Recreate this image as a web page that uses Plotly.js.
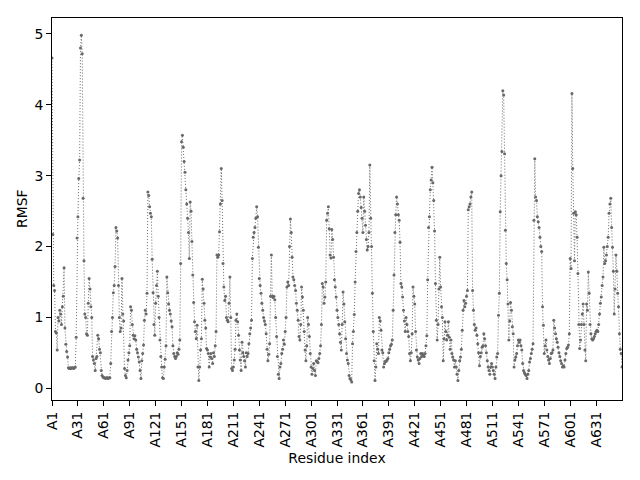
<!DOCTYPE html>
<html>
<head>
<meta charset="utf-8">
<script src="https://cdn.plot.ly/plotly-3.0.1.min.js"></script>
<style>
html,body{margin:0;padding:0;background:#fff;}
#chart{width:640px;height:480px;}
</style>
</head>
<body>
<div id="chart"></div>
<script>
// RMSF per residue (residues A1..A661)
const rmsf1 = [
4.66,2.17,1.45,1.38,0.80,0.78,0.54,1.0,0.95,1.1,
1.05,0.9,1.15,1.3,1.7,0.85,0.62,0.52,0.44,0.29,
0.28,0.29,0.28,0.29,0.29,0.28,0.29,0.3,0.72,2.12,
2.42,2.96,3.22,4.8,4.98,4.72,2.68,1.8,1.05,1.0,
0.77,0.75,1.2,1.55,1.4,1.15,1.0,0.45,0.4,0.35,
0.25,0.42,0.45,0.75,0.7,0.55,0.5,0.25,0.18,0.16,
0.15,0.15,0.14,0.15,0.15,0.14,0.15,0.15,0.35,0.8,
1.0,1.35,1.45,1.72,2.27,2.22,2.12,1.45,1.0,0.8,
0.85,1.55,1.05,0.95,0.28,0.18,0.15,0.25,0.4,0.5,
0.6,1.15,1.1,0.9,0.75,0.7,0.74,0.68,0.55,0.5,
0.44,0.37,0.25,0.14,0.39,0.49,0.61,0.96,1.1,1.05
];
const rmsf2 = [
1.34,2.77,2.72,2.56,2.47,2.42,1.82,1.35,0.9,0.75,
1.2,1.45,1.65,1.3,1.0,0.68,0.45,0.3,0.15,0.14,
0.3,0.41,0.6,1.57,1.35,1.19,1.1,1.05,0.95,0.87,
0.6,0.49,0.45,0.42,0.45,0.5,0.48,0.55,0.68,1.76,
3.48,3.57,3.4,3.2,3.05,2.8,2.6,2.4,2.2,1.83,
2.63,2.5,2.07,1.6,1.21,0.94,0.8,0.7,0.89,0.3,
0.11,0.3,0.54,0.7,1.54,1.4,1.2,0.96,0.85,0.56,
0.54,0.49,0.3,0.44,0.49,0.42,0.35,0.5,0.45,0.6,
0.8,1.88,1.85,1.88,2.21,2.6,3.1,2.65,1.76,1.43,
1.24,1.3,1.0,0.96,0.94,1.2,1.57,1.0,0.28,0.25,
0.3,0.4,0.55,0.96,1.05,0.94,0.75,0.54,0.4,0.25
];
const rmsf3 = [
0.65,0.5,0.45,0.39,0.3,0.5,0.45,0.49,0.63,0.77,
0.85,0.96,1.83,2.13,2.2,2.27,2.4,2.56,2.42,1.99,
1.55,1.45,1.34,1.2,1.1,1.0,0.95,0.9,0.77,0.55,
0.39,0.48,0.63,1.3,1.88,1.3,1.28,1.3,1.25,1.0,
0.73,0.45,0.2,0.14,0.3,0.35,0.49,0.55,0.68,0.62,
0.8,1.0,1.43,1.5,1.45,2.0,2.39,2.2,1.85,1.57,
1.53,1.45,1.38,1.2,1.1,0.96,0.73,0.68,0.9,1.43,
1.29,1.1,0.8,0.54,0.39,0.6,1.0,0.9,0.73,0.49,
0.3,0.2,0.28,0.35,0.25,0.18,0.39,0.38,0.36,0.42,
0.49,0.6,0.9,1.48,1.43,1.2,1.29,1.5,2.37,2.47,
2.56,2.25,1.88,1.84,2.24,2.1,1.85,1.53,1.43,1.29
];
const rmsf4 = [
1.1,1.0,0.9,0.77,0.65,0.54,0.9,1.36,1.19,0.94,
0.7,0.49,0.4,0.35,0.18,0.14,0.12,0.09,0.63,0.8,
1.04,1.5,1.93,2.2,2.5,2.75,2.8,2.7,2.55,2.4,
2.2,2.7,2.5,2.3,2.1,1.95,2.0,2.2,3.15,2.4,
2.0,1.34,0.8,0.39,0.11,0.3,0.63,0.55,0.49,1.0,
0.95,0.82,0.54,0.5,0.3,0.35,0.38,0.38,0.4,0.42,
0.5,0.55,0.6,0.62,0.68,1.1,1.6,2.2,2.45,2.7,
2.6,2.45,2.37,2.06,1.48,1.43,1.29,1.1,0.95,0.8,
1.0,0.9,0.8,0.73,0.49,0.39,0.5,0.77,1.43,1.3,
1.19,0.8,0.54,0.44,0.4,0.35,0.42,0.49,0.45,0.49,
0.47,0.45,0.49,0.6,0.74,1.53,2.27,2.42,2.8,2.94
];
const rmsf5 = [
3.12,2.9,2.65,2.22,1.48,0.96,0.68,0.9,1.4,1.85,
1.43,1.15,1.0,0.39,0.7,0.94,0.8,0.68,0.75,0.94,
0.72,0.55,0.68,0.49,0.44,0.4,0.3,0.39,0.3,0.2,
0.11,0.25,0.39,0.44,0.55,0.82,1.1,1.24,1.15,1.2,
1.3,1.38,2.52,2.56,2.6,2.7,2.77,1.38,1.1,0.9,
0.82,0.85,0.75,0.63,0.5,0.32,0.45,0.5,0.58,0.6,
0.77,0.7,0.6,0.5,0.39,0.3,0.25,0.2,0.3,0.35,
0.3,0.25,0.2,0.14,0.3,0.44,0.49,1.03,1.34,2.49,
3.0,3.34,4.2,4.14,3.31,2.23,1.76,1.53,1.19,0.68,
0.95,1.21,1.1,0.87,0.77,0.3,0.4,0.44,0.49,0.6,
0.68,0.65,0.68,0.6,0.54,0.35,0.25,0.22,0.2,0.18
];
const rmsf6 = [
0.14,0.2,0.25,0.37,0.42,0.49,0.55,0.63,2.37,3.24,
2.7,2.65,2.42,2.35,2.27,2.13,2.0,1.93,1.15,0.89,
0.49,0.6,0.68,0.54,0.45,0.4,0.35,0.42,0.49,0.5,
0.54,0.96,0.85,0.77,0.7,0.65,0.58,0.5,0.45,0.39,
0.35,0.3,0.32,0.3,0.4,0.49,0.56,0.58,0.61,0.77,
1.83,1.69,4.16,3.1,2.47,1.8,2.49,2.45,2.13,1.62,
0.9,0.56,0.68,0.9,1.05,1.19,0.9,0.54,0.39,1.19,
1.1,1.64,1.34,0.9,0.77,0.7,0.68,0.7,0.73,0.77,
0.8,0.82,0.8,0.9,1.05,1.2,1.29,1.45,1.57,1.99,
1.76,1.8,1.88,2.0,2.13,2.47,2.6,2.68,2.27,1.99,
1.65,1.05,1.4,1.88,1.65,1.34,1.15,0.77,0.55,0.49,
0.3
];
const tickLabels = ['A1','A31','A61','A91','A121','A151','A181','A211','A241','A271','A301',
  'A331','A361','A391','A421','A451','A481','A511','A541','A571','A601','A631'];
const yTicks = [0, 1, 2, 3, 4, 5];

const values = [].concat(rmsf1, rmsf2, rmsf3, rmsf4, rmsf5, rmsf6);
const residues = values.map((_, i) => 'A' + (i + 1));

const trace = {
  x: residues,
  y: values,
  type: 'scatter',
  mode: 'lines+markers',
  line: {color: '#777777', width: 1, dash: '1.1px,1.9px'},
  marker: {color: '#686868', size: 3},
  hoverinfo: 'x+y'
};

const font = {family: 'DejaVu Sans, sans-serif', size: 13.9, color: '#000'};

const layout = {
  width: 640, height: 480,
  margin: {l: 52, r: 18, t: 18, b: 80},
  paper_bgcolor: '#fff', plot_bgcolor: '#fff',
  showlegend: false,
  font: font,
  xaxis: {
    type: 'category',
    range: [0, values.length - 1],
    tickmode: 'array',
    tickvals: tickLabels,
    ticktext: tickLabels,
    tickangle: -90,
    ticks: 'outside', ticklen: 5, tickwidth: 1, tickcolor: '#000',
    showline: true, linecolor: '#000', linewidth: 1, mirror: true,
    showgrid: false, zeroline: false,
    tickfont: font,
    title: {text: 'Residue index', font: font},
    automargin: false
  },
  yaxis: {
    range: [-0.165, 5.225],
    tickmode: 'array',
    tickvals: yTicks,
    ticktext: yTicks.map(String),
    ticks: 'outside', ticklen: 5, tickwidth: 1, tickcolor: '#000',
    showline: true, linecolor: '#000', linewidth: 1, mirror: true,
    showgrid: false, zeroline: false,
    tickfont: font,
    automargin: false
  },
  annotations: [{
    text: 'RMSF', font: font, textangle: -90,
    xref: 'paper', yref: 'paper', x: 0, y: 0.5,
    xanchor: 'center', yanchor: 'middle', xshift: -30, showarrow: false
  }]
};

Plotly.newPlot('chart', [trace], layout, {staticPlot: true, displayModeBar: false});
</script>
</body>
</html>
